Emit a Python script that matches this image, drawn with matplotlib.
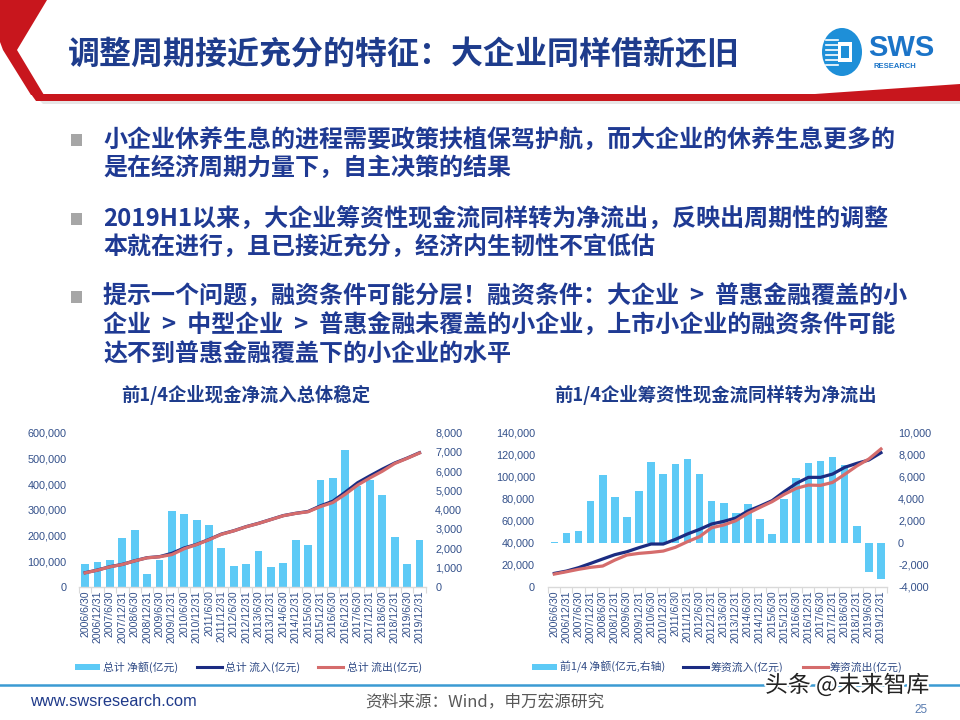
import matplotlib
matplotlib.use('Agg')
import matplotlib.pyplot as plt
from matplotlib.patches import Polygon, Rectangle, Ellipse
from matplotlib.lines import Line2D
import matplotlib.patheffects as pe
from matplotlib.ticker import FuncFormatter
import numpy as np

plt.rcParams['font.family'] = ['Liberation Sans', 'Noto Sans CJK SC', 'DejaVu Sans']
CJK = ['Noto Sans CJK SC', 'Liberation Sans', 'DejaVu Sans']

# ---------------- data ----------------
dates = ['2006/6/30', '2006/12/31', '2007/6/30', '2007/12/31', '2008/6/30', '2008/12/31',
         '2009/6/30', '2009/12/31', '2010/6/30', '2010/12/31', '2011/6/30', '2011/12/31',
         '2012/6/30', '2012/12/31', '2013/6/30', '2013/12/31', '2014/6/30', '2014/12/31',
         '2015/6/30', '2015/12/31', '2016/6/30', '2016/12/31', '2017/6/30', '2017/12/31',
         '2018/6/30', '2018/12/31', '2019/6/30', '2019/12/31']

# left chart: total cash flow of top-1/4 firms
total_net = [1160, 1264, 1385, 2545, 2944, 641, 1385, 3931, 3758, 3481, 3203, 2026,
             1056, 1195, 1870, 1022, 1247, 2424, 2165, 5541, 5662, 7100, 5250, 5541,
             4762, 2580, 1160, 2424]                       # right axis
total_inflow = [54500, 65000, 78000, 87000, 101000, 113000, 117000, 130000, 151000, 165000,
                184000, 205000, 218000, 234000, 247000, 262000, 277000, 286000, 293000,
                315000, 333000, 368000, 405000, 432000, 458000, 482000, 501000, 522000]
total_outflow = [54000, 64500, 77500, 86500, 100500, 112500, 116500, 125000, 148000, 164000,
                 183000, 204000, 217500, 233500, 246500, 261500, 276500, 285500, 292000,
                 312000, 328000, 360000, 396000, 424000, 450000, 480000, 500000, 521000]

# right chart: financing cash flow of top-1/4 firms
fin_net = [60, 848, 1060, 3818, 6152, 4182, 2364, 4697, 7303, 6273, 7121, 7576,
           6273, 3818, 3606, 2667, 3485, 2182, 818, 4000, 5909, 7273, 7455, 7788,
           7061, 1545, -2636, -3333]                       # right axis
fin_inflow = [12100, 14200, 17300, 21200, 25200, 29100, 31800, 35500, 38800, 38800,
              43000, 47900, 52100, 57000, 59400, 62400, 68800, 73300, 78200, 86400,
              93900, 99400, 99400, 102400, 108500, 112100, 115200, 121800]
fin_outflow = [11500, 13600, 15800, 17600, 18800, 24200, 28800, 30300, 31200, 32400,
               35800, 40900, 45500, 53600, 56100, 60000, 66700, 72100, 77300, 83900,
               89400, 92400, 92100, 94800, 102100, 109700, 116100, 125200]

title = '调整周期接近充分的特征：大企业同样借新还旧'
bullets = [
    ['小企业休养生息的进程需要政策扶植保驾护航，而大企业的休养生息更多的',
     '是在经济周期力量下，自主决策的结果'],
    ['2019H1以来，大企业筹资性现金流同样转为净流出，反映出周期性的调整',
     '本就在进行，且已接近充分，经济内生韧性不宜低估'],
    ['提示一个问题，融资条件可能分层！融资条件：大企业  >  普惠金融覆盖的小',
     '企业  >  中型企业  >  普惠金融未覆盖的小企业，上市小企业的融资条件可能',
     '达不到普惠金融覆盖下的小企业的水平'],
]
left_title = '前1/4企业现金净流入总体稳定'
right_title = '前1/4企业筹资性现金流同样转为净流出'
left_legend = ['总计 净额(亿元)', '总计 流入(亿元)', '总计 流出(亿元)']
right_legend = ['前1/4 净额(亿元,右轴)', '筹资流入(亿元)', '筹资流出(亿元)']

# ---------------- style ----------------
BAR = '#5DCAF6'
NAVY = '#1B2C82'
RED = '#D56C6C'
TXT = '#1F3A93'
TICK = '#33508A'
AXL = '#D9D9D9'

W, H = 960, 720
fig = plt.figure(figsize=(9.6, 7.2), dpi=100)
fig.patch.set_facecolor('white')


def fx(x):
    return x / W


def fy(y):
    return 1 - y / H


def fpoly(pts, **kw):
    fig.add_artist(Polygon([(fx(a), fy(b)) for a, b in pts], closed=True,
                           transform=fig.transFigure, **kw))


# ---------------- header ----------------
RED_H = '#C8161D'
fpoly([(0, 0), (47, 0), (17, 50), (44, 95), (31, 95), (3, 50), (0, 42)], color=RED_H, lw=0)
fpoly([(31, 94), (815, 94), (960, 84), (960, 101), (36, 101)], color=RED_H, lw=0)
fpoly([(40, 101), (960, 101), (960, 104), (43, 104)], color='#E6E6E6', lw=0)

fig.text(fx(68), fy(55), title, family=CJK, weight='bold', fontsize=23,
         color='#1E3C8C', ha='left', va='center')

# logo
fig.add_artist(Ellipse((fx(842), fy(52)), 40 / W, 48 / H, transform=fig.transFigure,
                       color='#1E8FD8', lw=0))
for yy in [40, 45, 50, 55, 60, 65]:
    fig.add_artist(Line2D([fx(826), fx(838)], [fy(yy), fy(yy)], transform=fig.transFigure,
                          color='white', lw=1.2))
fig.add_artist(Rectangle((fx(838), fy(62)), 14 / W, 20 / H, transform=fig.transFigure,
                         facecolor='white', edgecolor='none'))
fig.add_artist(Rectangle((fx(841), fy(58)), 8 / W, 12 / H, transform=fig.transFigure,
                         facecolor='#1E8FD8', edgecolor='none'))
fig.text(fx(868), fy(48), 'SWS', fontsize=21, weight='bold', color='#1B74C8',
         ha='left', va='center', family='Liberation Sans')
fig.text(fx(873), fy(66), 'RESEARCH', fontsize=5.5, weight='bold', color='#1B74C8',
         ha='left', va='center', family='Liberation Sans')

# ---------------- bullets ----------------
line_y = [[140, 168], [219, 247], [297, 326, 355]]
for lines, ys in zip(bullets, line_y):
    fig.add_artist(Rectangle((fx(71), fy(ys[0] + 6)), 11 / W, 12 / H,
                             transform=fig.transFigure, facecolor='#A6A6A6',
                             edgecolor='none'))
    for s, yy in zip(lines, ys):
        fig.text(fx(103), fy(yy), s, family=CJK, weight='bold', fontsize=17.3,
                 color=TXT, ha='left', va='center')

# ---------------- charts ----------------
fmt = FuncFormatter(lambda v, p: '{:,.0f}'.format(v))


def make_chart(x0, x1, net, inflow, outflow, lylim, lstep, rylim, rstep, lpad, rpad):
    y0, y1 = 432.7, 586.7
    ax = fig.add_axes([fx(x0), fy(y1), (x1 - x0) / W, (y1 - y0) / H])
    ax2 = ax.twinx()
    x = np.arange(len(dates))
    ax2.bar(x, net, width=0.63, color=BAR, lw=0)
    ax.plot(x, inflow, color=NAVY, lw=2.3)
    ax.plot(x, outflow, color=RED, lw=2.3)
    ax.set_zorder(ax2.get_zorder() + 1)
    ax.patch.set_visible(False)
    ax.set_xlim(-0.5, len(dates) - 0.5)
    ax.set_ylim(*lylim)
    ax2.set_ylim(*rylim)
    ax.set_yticks(np.arange(lylim[0], lylim[1] + 1, lstep))
    ax2.set_yticks(np.arange(rylim[0], rylim[1] + 1, rstep))
    ax.yaxis.set_major_formatter(fmt)
    ax2.yaxis.set_major_formatter(fmt)
    for a in (ax, ax2):
        for sp in a.spines.values():
            sp.set_visible(False)
    ax.spines['bottom'].set_visible(True)
    ax.spines['bottom'].set_color(AXL)
    ax.spines['bottom'].set_linewidth(1.0)
    ax.set_xticks(x)
    ax.set_xticklabels(dates, rotation=90, fontsize=7.6, color=TICK)
    ax.set_xticks(np.arange(-0.5, len(dates), 1.0), minor=True)
    ax.tick_params(axis='x', which='major', length=0, pad=2.5)
    ax.tick_params(axis='x', which='minor', length=4, color=AXL, width=0.8)
    ax.tick_params(axis='y', length=0, pad=lpad, labelsize=7.8, labelcolor=TICK)
    ax2.tick_params(axis='y', length=0, pad=rpad, labelsize=7.8, labelcolor=TICK)
    return ax


make_chart(79, 425.7, total_net, total_inflow, total_outflow,
           (0, 600000), 100000, (0, 8000), 1000, 9.0, 6.8)
make_chart(548.3, 887, fin_net, fin_inflow, fin_outflow,
           (0, 140000), 20000, (-4000, 10000), 2000, 9.6, 8.0)

fig.text(fx(245.5), fy(395), left_title, family=CJK, weight='bold', fontsize=13.2,
         color='#1E3C8C', ha='center', va='center')
fig.text(fx(715), fy(395), right_title, family=CJK, weight='bold', fontsize=13.2,
         color='#1E3C8C', ha='center', va='center')


def legend(items, ly=667):
    for kind, color, label, s0, s1, tx in items:
        if kind == 'bar':
            fig.add_artist(Rectangle((fx(s0), fy(ly + 3)), (s1 - s0) / W, 6 / H,
                                     transform=fig.transFigure, facecolor=color,
                                     edgecolor='none'))
        else:
            fig.add_artist(Line2D([fx(s0), fx(s1)], [fy(ly), fy(ly)],
                                  transform=fig.transFigure, color=color, lw=2.2))
        fig.text(fx(tx), fy(ly), label, family=CJK, fontsize=7.8, color='#2F4A85',
                 ha='left', va='center')


legend([('bar', BAR, left_legend[0], 75, 100, 103),
        ('line', NAVY, left_legend[1], 197, 222, 225),
        ('line', RED, left_legend[2], 318, 343, 347)])
legend([('bar', BAR, right_legend[0], 532, 557, 560),
        ('line', NAVY, right_legend[1], 683, 708, 711),
        ('line', RED, right_legend[2], 803, 828, 830)])

# ---------------- footer ----------------
fig.add_artist(Line2D([0, 1], [fy(685), fy(685)], transform=fig.transFigure,
                      color='#3B9BD3', lw=1.8))
fig.text(fx(30), fy(701), 'www.swsresearch.com', fontsize=11.8, color='#1F3A8A',
         ha='left', va='center', family='Liberation Sans')
fig.text(fx(365), fy(702), '资料来源：Wind，申万宏源研究', family=CJK, fontsize=12,
         color='#595959', ha='left', va='center')
fig.text(fx(921), fy(710), '25', fontsize=8.5, color='#5B7DB1', ha='center', va='center',
         family='Liberation Sans')
fig.text(fx(765), fy(685), '头条 @未来智库', family=CJK, fontsize=16.5, color='#222222',
         ha='left', va='center',
         path_effects=[pe.withStroke(linewidth=3, foreground='white')])

fig.savefig('out.png', dpi=100)
